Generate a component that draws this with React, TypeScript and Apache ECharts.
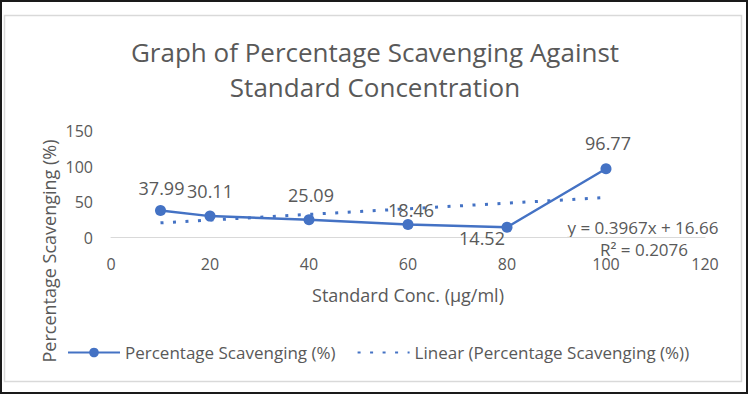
import React, { useEffect, useRef } from "react";
import * as echarts from "echarts";

const concentrations = [10, 20, 40, 60, 80, 100];
const scavenging = [37.99, 30.11, 25.09, 18.46, 14.52, 96.77];
const trendX = [10, 100];
const trendY = [20.63, 56.33];
const xTicks = { min: 0, max: 120, interval: 20 };
const yTicks = { min: 0, max: 150, interval: 50 };
const titleText = "Graph of Percentage Scavenging Against\nStandard Concentration";
const seriesName = "Percentage Scavenging (%)";
const trendName = "Linear (Percentage Scavenging (%))";
const equationText = "y = 0.3967x + 16.66";
const r2Text = "R² = 0.2076";
const xTitle = "Standard Conc. (µg/ml)";
const yTitle = "Percentage Scavenging (%)";

// label placement offsets (layout only)
const labelOffsets: [number, number][] = [
  [1, -23],
  [0, -25],
  [2, -25],
  [3, -14],
  [-25, 11],
  [2, -26],
];

const FONT = "'Open Sans', 'Noto Sans', sans-serif";
const TEXT = "#595959";
const BLUE = "#4472C4";

export default function App() {
  const ref = useRef<HTMLDivElement>(null);
  useEffect(() => {
    if (!ref.current) return;
    const chart = echarts.init(ref.current, null, { renderer: "svg" });
    chart.setOption({
      animation: false,
      backgroundColor: "#ffffff",
      textStyle: { fontFamily: FONT, color: TEXT },
      title: {
        text: titleText,
        left: "center",
        top: 29,
        textStyle: {
          fontFamily: FONT,
          fontSize: 26,
          fontWeight: "normal",
          color: TEXT,
          lineHeight: 35,
        },
      },
      grid: { left: 111, right: 45, top: 131, bottom: 157.5, containLabel: false },
      xAxis: {
        type: "value",
        min: xTicks.min,
        max: xTicks.max,
        interval: xTicks.interval,
        name: xTitle,
        nameLocation: "middle",
        nameGap: 48,
        nameTextStyle: { fontFamily: FONT, fontSize: 18, color: TEXT },
        axisLine: { show: true, lineStyle: { color: "#d9d9d9", width: 1 } },
        axisTick: { show: false },
        splitLine: { show: false },
        axisLabel: { fontFamily: FONT, fontSize: 16, color: TEXT, margin: 18 },
      },
      yAxis: {
        type: "value",
        min: yTicks.min,
        max: yTicks.max,
        interval: yTicks.interval,
        axisLine: { show: false },
        axisTick: { show: false },
        splitLine: { show: false },
        axisLabel: { fontFamily: FONT, fontSize: 16, color: TEXT, margin: 18 },
      },
      legend: {
        left: 62,
        top: 339,
        itemWidth: 52,
        itemHeight: 12,
        itemGap: 21,
        textStyle: { fontFamily: FONT, fontSize: 17, color: TEXT },
        data: [seriesName, { name: trendName, itemStyle: { opacity: 0 } }],
      },
      series: [
        {
          name: trendName,
          type: "line",
          data: trendX.map((x, i) => [x, trendY[i]]),
          symbol: "none",
          lineStyle: { color: BLUE, width: 3, type: [3, 9.5] },
          itemStyle: { color: BLUE },
          z: 1,
        },
        {
          name: seriesName,
          type: "line",
          data: concentrations.map((x, i) => ({
            value: [x, scavenging[i]],
            label: { offset: labelOffsets[i] },
          })),
          symbol: "circle",
          symbolSize: 11,
          lineStyle: { color: BLUE, width: 2.5 },
          itemStyle: { color: BLUE },
          label: {
            show: true,
            position: "inside",
            fontFamily: FONT,
            fontSize: 18,
            color: TEXT,
            formatter: (p: any) => p.value[1].toFixed(2),
          },
          z: 3,
        },
      ],
      graphic: [
        {
          type: "rect",
          shape: { x: 1, y: 1, width: 746, height: 392 },
          style: { fill: "none", stroke: "#1a1a1a", lineWidth: 2 },
          silent: true,
        },
        {
          type: "rect",
          shape: { x: 4.5, y: 15.5, width: 737, height: 366 },
          style: { fill: "none", stroke: "#d9d9d9", lineWidth: 1.5 },
          silent: true,
        },
        {
          type: "text",
          x: 49,
          y: 251,
          rotation: Math.PI / 2,
          style: {
            text: yTitle,
            fontFamily: FONT,
            fontSize: 18,
            fill: TEXT,
            align: "center",
            verticalAlign: "middle",
          },
        },
        {
          type: "text",
          x: 643,
          y: 227,
          style: {
            text: equationText,
            fontFamily: FONT,
            fontSize: 17,
            fill: TEXT,
            align: "center",
            verticalAlign: "middle",
          },
        },
        {
          type: "text",
          x: 644,
          y: 249,
          style: {
            text: r2Text,
            fontFamily: FONT,
            fontSize: 17,
            fill: TEXT,
            align: "center",
            verticalAlign: "middle",
          },
        },
      ],
    });
    return () => chart.dispose();
  }, []);
  return (
    <div
      ref={ref}
      style={{ position: "fixed", left: 0, top: 0, width: 750, height: 395 }}
    />
  );
}
